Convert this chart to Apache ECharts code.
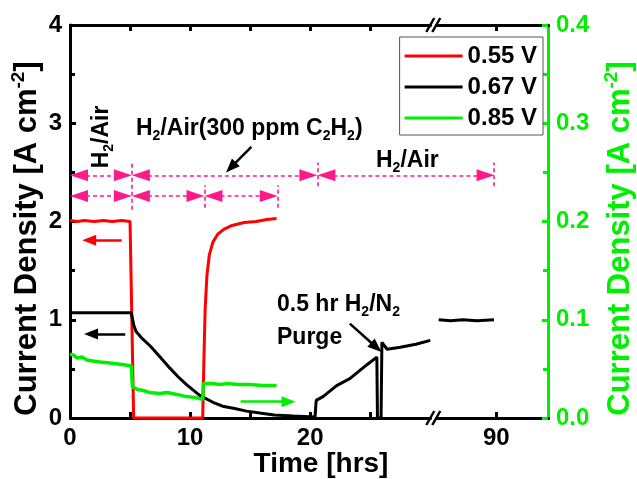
<!DOCTYPE html>
<html>
<head>
<meta charset="utf-8">
<script src="https://cdn.jsdelivr.net/npm/echarts@6/dist/echarts.min.js"></script>
<style>
  html, body { margin: 0; padding: 0; background: #fff; }
  #chart { width: 637px; height: 479px; }
</style>
</head>
<body>
<div id="chart"></div>
<script>
// [hours, current density A/cm2]
const red055 = [
  [0, 2.01], [0.6, 2.0], [1.2, 2.01], [2.0, 2.0], [2.8, 2.01], [3.5, 2.0], [4.3, 2.01], [5.0, 2.0],
  [5.3, 0.0], [8.0, 0.0], [11.05, 0.0], [11.15, 0.6], [11.25, 1.1], [11.4, 1.45], [11.6, 1.66],
  [11.9, 1.79], [12.3, 1.87], [12.8, 1.92], [13.5, 1.96], [14.5, 1.99], [15.5, 2.0], [16.4, 2.02], [17.2, 2.03]
];
const black067 = [
  [0, 1.07], [1, 1.07], [2, 1.07], [3, 1.07], [4, 1.07], [5.1, 1.07], [5.3, 0.95], [5.5, 0.88],
  [6.0, 0.81], [6.7, 0.73], [7.5, 0.62], [8.3, 0.51], [9.0, 0.42], [9.7, 0.34], [10.8, 0.23],
  [11.9, 0.16], [12.7, 0.12], [13.6, 0.10], [14.7, 0.07], [15.8, 0.05], [17.0, 0.03], [18.6, 0.02],
  [20.4, 0.01], [20.5, 0.18], [21.1, 0.22], [22.2, 0.33], [23.3, 0.40], [24.7, 0.54], [25.55, 0.62],
  [25.6, 0.0], [25.9, 0.0], [25.97, 0.77], [26.4, 0.70], [27.5, 0.72], [28.8, 0.75], [30.0, 0.79]
];
const black067Late = [[85.2, 1.0], [86.2, 0.99], [87.2, 1.0], [88.4, 0.99], [89.8, 1.0]];
// right axis
const green085 = [
  [0, 0.065], [0.3, 0.064], [0.6, 0.061], [1.0, 0.062], [1.4, 0.059], [1.9, 0.058], [2.5, 0.057],
  [3.3, 0.056], [4.0, 0.055], [4.6, 0.054], [5.1, 0.053], [5.2, 0.032], [5.6, 0.029], [6.1, 0.028],
  [6.6, 0.026], [7.5, 0.025], [8.1, 0.026], [8.9, 0.024], [9.6, 0.022], [10.4, 0.021], [11.05, 0.019],
  [11.1, 0.035], [11.8, 0.035], [12.5, 0.034], [13.05, 0.035], [14.0, 0.034], [15.0, 0.034],
  [16.0, 0.033], [17.2, 0.033]
];
const xTicks = [0, 5, 10, 15, 20, 25, 90];
const xLabels = [0, 10, 20, 90];
const legendNames = ['0.55 V', '0.67 V', '0.85 V'];

const FONT = 'Liberation Sans, Arial, sans-serif';
const PINK = '#ff1a8c';
const GREEN = '#00ee00';

const rich = (size, color) => ({
  n: { fontSize: size, fontWeight: 'bold', fontFamily: FONT, color: color, lineHeight: size + 6 },
  sub: { fontSize: Math.round(size * 0.62), fontWeight: 'bold', fontFamily: FONT, color: color,
         verticalAlign: 'bottom', lineHeight: Math.round(size * 0.62) },
  sup: { fontSize: Math.round(size * 0.62), fontWeight: 'bold', fontFamily: FONT, color: color,
         verticalAlign: 'top', lineHeight: Math.round(size * 0.62) }
});

const xBreaks = [{ start: 30, end: 85, gap: 0.5 }];

const xCommon = {
  type: 'value', min: 0, max: 94.3,
  breaks: xBreaks,
  breakArea: { show: false },
  axisLine: { onZero: false, lineStyle: { color: '#000', width: 3 } },
  axisTick: { inside: true, length: 6, customValues: xTicks, lineStyle: { color: '#000', width: 3 } },
  splitLine: { show: false }
};

// annotation lines in data space
const dbl = (a, b, y) => [{ coord: [a, y] }, { coord: [b, y] }];
const vert = (x, y0, y1) => [{ coord: [x, y0], symbol: 'none' }, { coord: [x, y1], symbol: 'none' }];
const pinkArrows = [
  dbl(0.75, 4.4, 2.47), dbl(5.9, 19.85, 2.47), dbl(21.35, 89.1, 2.47),
  dbl(0.75, 4.4, 2.26), dbl(5.9, 10.45, 2.26), dbl(11.95, 16.55, 2.26)
];
const pinkTicks = [
  vert(5.14, 2.12, 2.61), vert(11.2, 2.14, 2.37), vert(17.3, 2.14, 2.37),
  vert(20.6, 2.36, 2.6), vert(89.8, 2.36, 2.6)
];
const arrow = (x0, y0, x1, y1, color) => [
  { coord: [x0, y0], symbol: 'none', lineStyle: { color: color } },
  { coord: [x1, y1], lineStyle: { color: color } }
];
const pointers = [
  arrow(4.3, 1.81, 1.6, 1.81, '#ff0000'),
  arrow(4.6, 0.855, 1.75, 0.855, '#000'),
  arrow(14.2, 0.166, 18.2, 0.166, GREEN),
  arrow(15.1, 2.76, 13.4, 2.55, '#000'),
  arrow(23.3, 0.96, 25.5, 0.72, '#000')
];

const chart = echarts.init(document.getElementById('chart'));
chart.setOption({
  backgroundColor: '#fff',
  animation: false,
  grid: { left: 70, right: 89, top: 25, bottom: 61, outerBoundsMode: 'none' },
  legend: {
    data: legendNames,
    orient: 'vertical',
    right: 94, top: 37,
    padding: [7, 6, 5, 5],
    itemGap: 7,
    icon: 'rect',
    itemWidth: 58, itemHeight: 3,
    borderColor: '#555', borderWidth: 1, borderRadius: 0,
    backgroundColor: '#fff',
    textStyle: { fontFamily: FONT, fontWeight: 'bold', fontSize: 24, lineHeight: 23, color: '#000' }
  },
  xAxis: [
    Object.assign({}, xCommon, {
      position: 'bottom',
      axisLabel: { customValues: xLabels, margin: 8, fontFamily: FONT, fontWeight: 'bold', fontSize: 24, color: '#000' },
      name: 'Time [hrs]', nameLocation: 'middle', nameGap: 32, nameMoveOverlap: false,
      nameTextStyle: { fontFamily: FONT, fontWeight: 'bold', fontSize: 28, lineHeight: 28, color: '#000', padding: [0, 0, 0, 24] }
    }),
    Object.assign({}, xCommon, { position: 'top', axisLabel: { show: false } })
  ],
  yAxis: [
    {
      type: 'value', min: 0, max: 4, interval: 1, position: 'left',
      axisLine: { show: true, onZero: false, lineStyle: { color: '#000', width: 3 } },
      axisTick: { show: true, inside: true, length: 6, lineStyle: { width: 3 } },
      minorTick: { show: true, splitNumber: 2, length: 5, lineStyle: { color: '#000', width: 3 } },
      splitLine: { show: false },
      axisLabel: { margin: 8, fontFamily: FONT, fontWeight: 'bold', fontSize: 24, color: '#000' },
      name: '{n|Current Density [A cm}{sup|-2}{n|]}', nameLocation: 'middle', nameGap: 24, nameMoveOverlap: false,
      nameTextStyle: { rich: rich(31, '#000'), padding: [0, 34, 0, 0] }
    },
    {
      type: 'value', min: 0, max: 0.4, interval: 0.1, position: 'right',
      axisLine: { show: true, onZero: false, lineStyle: { color: GREEN, width: 3 } },
      axisTick: { show: true, inside: true, length: 6, lineStyle: { width: 3 } },
      minorTick: { show: true, splitNumber: 2, length: 5, lineStyle: { color: GREEN, width: 3 } },
      splitLine: { show: false },
      axisLabel: { margin: 8, fontFamily: FONT, fontWeight: 'bold', fontSize: 24, color: GREEN,
                   formatter: v => v.toFixed(1) },
      name: '{n|Current Density [A cm}{sup|-2}{n|]}', nameLocation: 'middle', nameGap: 54, nameMoveOverlap: false,
      nameTextStyle: { rich: rich(31, GREEN), padding: [0, 34, 0, 0] }
    }
  ],
  series: [
    { name: '0.55 V', type: 'line', data: red055, symbol: 'none', clip: false,
      itemStyle: { color: '#ff0000' }, lineStyle: { color: '#ff0000', width: 3 } },
    { name: '0.67 V', type: 'line', data: black067, symbol: 'none', clip: false,
      itemStyle: { color: '#000' }, lineStyle: { color: '#000', width: 3 } },
    { name: '0.67 V', type: 'line', data: black067Late, symbol: 'none', clip: false,
      itemStyle: { color: '#000' }, lineStyle: { color: '#000', width: 3 } },
    { name: '0.85 V', type: 'line', data: green085, yAxisIndex: 1, symbol: 'none', clip: false,
      itemStyle: { color: GREEN }, lineStyle: { color: GREEN, width: 3.5 } },
    { name: 'notes', type: 'line', data: [], silent: true,
      markLine: {
        silent: true, animation: false,
        symbol: ['triangle', 'triangle'], symbolSize: [12, 18],
        label: { show: false },
        lineStyle: { color: PINK, width: 1.6, type: [4, 3] },
        emphasis: { disabled: true },
        data: pinkArrows.concat(pinkTicks)
      } },
    { name: 'pointers', type: 'line', data: [], silent: true,
      markLine: {
        silent: true, animation: false,
        symbol: ['none', 'triangle'], symbolSize: [11, 14],
        label: { show: false },
        lineStyle: { width: 2.5, type: 'solid' },
        emphasis: { disabled: true },
        data: pointers
      } }
  ]
});

// axis break marks and text annotations
const px = v => chart.convertToPixel({ xAxisIndex: 0 }, v);
const xb = (px(30) + px(85)) / 2;
const yTop = chart.convertToPixel({ yAxisIndex: 0 }, 4);
const yBot = chart.convertToPixel({ yAxisIndex: 0 }, 0);
const breakMark = (y) => ({
  type: 'group', x: xb, y: y, children: [
    { type: 'rect', shape: { x: -3, y: -4, width: 6, height: 8 }, style: { fill: '#fff' } },
    { type: 'line', shape: { x1: -7, y1: 7, x2: 1, y2: -7 }, style: { stroke: '#000', lineWidth: 2.5 } },
    { type: 'line', shape: { x1: -1, y1: 7, x2: 7, y2: -7 }, style: { stroke: '#000', lineWidth: 2.5 } }
  ]
});
const txt = (text, x, y, rot) => ({
  type: 'text', x: x, y: y, rotation: rot || 0,
  style: { text: text, rich: rich(23, '#000'), align: rot ? 'center' : 'left', verticalAlign: 'middle' }
});
chart.setOption({
  graphic: [
    breakMark(yTop), breakMark(yBot),
    txt('{n|H}{sub|2}{n|/Air}', 102, 137, Math.PI / 2),
    txt('{n|H}{sub|2}{n|/Air(300 ppm C}{sub|2}{n|H}{sub|2}{n|)}', 136, 129),
    txt('{n|H}{sub|2}{n|/Air}', 376, 161),
    txt('{n|0.5 hr H}{sub|2}{n|/N}{sub|2}', 277, 305),
    txt('{n|Purge}', 277, 338)
  ]
});
</script>
</body>
</html>
